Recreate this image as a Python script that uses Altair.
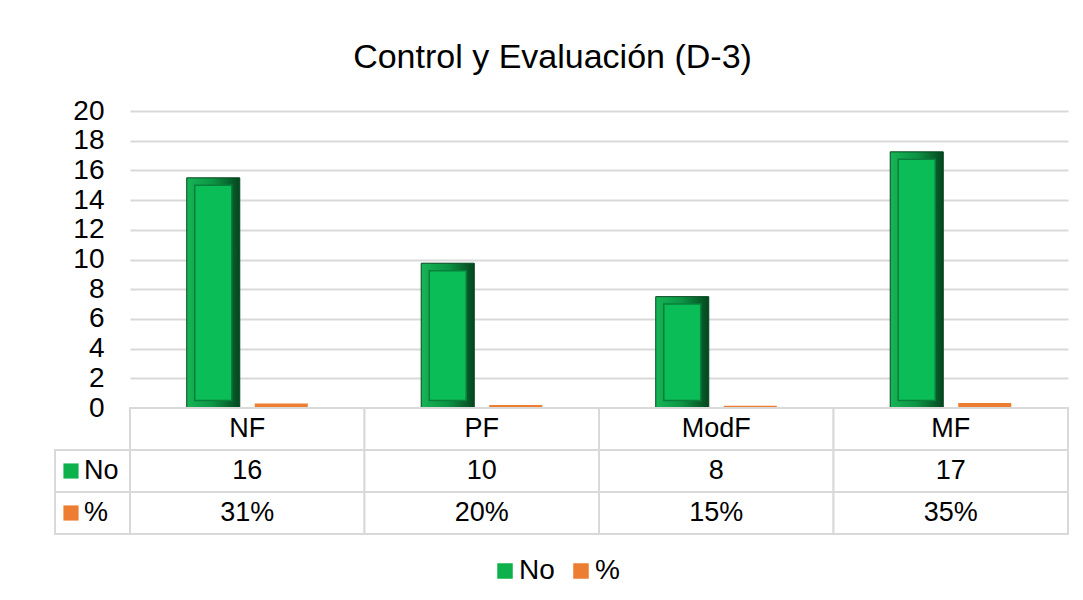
import altair as alt
import pandas as pd

categories = ["NF", "PF", "ModF", "MF"]
series = ["No", "%"]
no_values = [15.5, 9.75, 7.5, 17.25]
pct_values = [0.31, 0.195, 0.15, 0.345]
no_labels = ["16", "10", "8", "17"]
pct_labels = ["31%", "20%", "15%", "35%"]
row_keys = ["hdr", "No", "%"]
y_ticks = [0, 2, 4, 6, 8, 10, 12, 14, 16, 18, 20]

FONT = "Liberation Sans"
GREEN = "#0db14b"
ORANGE = "#ed7d31"
GRID = "#d9d9d9"

bars = pd.DataFrame(
    [{"cat": c, "series": "No", "value": v} for c, v in zip(categories, no_values)]
    + [{"cat": c, "series": "%", "value": v} for c, v in zip(categories, pct_values)]
)

table = pd.DataFrame(
    [{"cat": c, "row": "hdr", "text": c} for c in categories]
    + [{"cat": c, "row": "No", "text": t} for c, t in zip(categories, no_labels)]
    + [{"cat": c, "row": "%", "text": t} for c, t in zip(categories, pct_labels)]
)
row_labels = pd.DataFrame({"row": ["No", "%"], "series": ["No", "%"], "text": ["No", "%"]})

x_enc = alt.X("cat:N", sort=categories,
              scale=alt.Scale(paddingInner=0, paddingOuter=0), axis=None)
xo_enc = alt.XOffset("series:N", sort=series,
                     scale=alt.Scale(domain=series, paddingInner=0.22, paddingOuter=0.834))
color_scale = alt.Scale(domain=series, range=[GREEN, ORANGE])
y_scale = alt.Scale(domain=[0, 20], nice=False)
y_axis = alt.Axis(values=y_ticks, title=None, domain=False, ticks=False,
                  labelFont=FONT, labelFontSize=28, labelColor="black",
                  labelPadding=26, labelOverlap=False, labelBound=False,
                  gridColor=GRID, gridWidth=2)

base = alt.Chart(bars)

outer = base.mark_bar(
    fill=alt.Gradient(
        gradient="linear", x1=0, x2=1, y1=0, y2=0,
        stops=[alt.GradientStop(color="#16b556", offset=0),
               alt.GradientStop(color="#0c9444", offset=0.5),
               alt.GradientStop(color="#05461f", offset=1)],
    ),
    stroke="#05461f", strokeWidth=1,
).encode(
    x=x_enc, xOffset=xo_enc,
    y=alt.Y("value:Q", scale=y_scale, axis=y_axis),
).transform_filter(alt.datum.series == "No")

inner = base.mark_bar(width=37, color="#0abd56", stroke="#08803b", strokeWidth=1.5).encode(
    x=x_enc, xOffset=xo_enc,
    y=alt.Y("top:Q", scale=y_scale, axis=y_axis), y2=alt.Y2("bottom:Q"),
).transform_filter(alt.datum.series == "No").transform_calculate(
    top="datum.value - 0.5", bottom="0.5"
)

pct_bar = base.mark_bar().encode(
    x=x_enc, xOffset=xo_enc,
    y=alt.Y("value:Q", scale=y_scale, axis=y_axis),
    color=alt.Color("series:N", scale=color_scale, sort=series,
                    legend=alt.Legend(title=None, orient="none", legendX=361, legendY=446,
                                      direction="horizontal",
                                      symbolType="square", symbolSize=240,
                                      symbolStrokeWidth=0, labelFont=FONT,
                                      labelFontSize=28, labelColor="black",
                                      columnPadding=12, labelOffset=0)),
).transform_filter(alt.datum.series == "%")

top = alt.layer(outer, inner, pct_bar).properties(width=938, height=297)

y_tab = alt.Y("row:N", sort=row_keys, scale=alt.Scale(paddingInner=0, paddingOuter=0), axis=None)
x_tab = alt.X("cat:N", sort=categories, scale=alt.Scale(paddingInner=0, paddingOuter=0), axis=None)

cells = alt.Chart(table).mark_rect(fill="white", stroke=GRID, strokeWidth=2).encode(x=x_tab, y=y_tab)
cell_text = alt.Chart(table).mark_text(font=FONT, fontSize=27, color="black").encode(
    x=x_tab, y=y_tab, text="text:N")
label_cells = alt.Chart(row_labels).mark_rect(fill="white", stroke=GRID, strokeWidth=2).encode(
    x=alt.value(-75), x2=alt.value(0), y=y_tab)
label_sq = alt.Chart(row_labels).mark_square(size=230, opacity=1).encode(
    x=alt.value(-59), y=y_tab,
    color=alt.Color("series:N", scale=color_scale, sort=series, legend=None))
label_text = alt.Chart(row_labels).mark_text(font=FONT, fontSize=27, color="black", align="left").encode(
    x=alt.value(-46), y=y_tab, text="text:N")

bottom = alt.layer(cells, cell_text, label_cells, label_sq, label_text).properties(
    width=938, height=126)

chart = alt.vconcat(top, bottom, spacing=0, bounds="flush").resolve_scale(color="shared").resolve_legend(color="shared").properties(
    title=alt.TitleParams("Control y Evaluación (D-3)", font=FONT, fontSize=34, fontWeight="normal",
                          color="black", anchor="middle", frame="bounds", offset=22, dx=-9),
    padding={"left": 46, "top": 33, "right": 5, "bottom": 5},
).configure_view(stroke=None)

chart.save("out.html", embed_options={"renderer": "svg", "actions": False})
